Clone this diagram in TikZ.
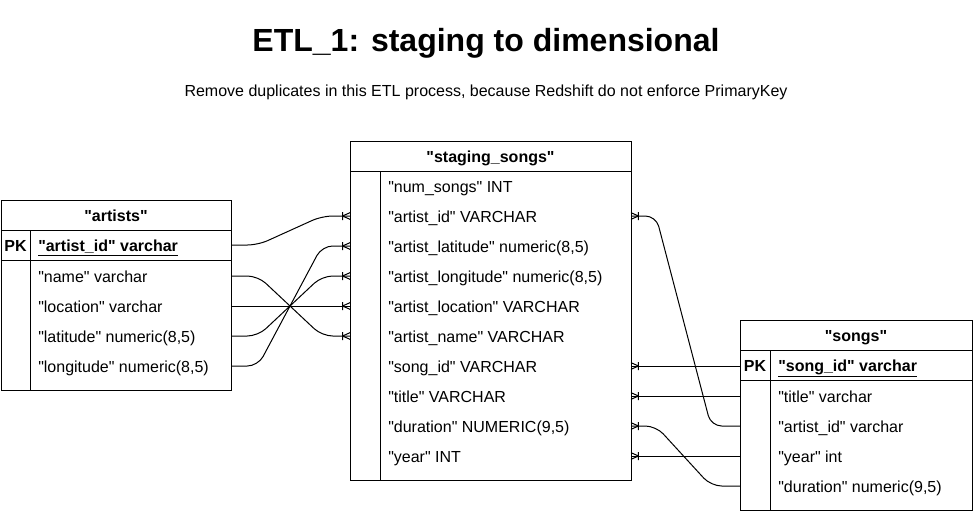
\documentclass[tikz,border=0pt]{standalone}
\usepackage{fontspec}
\newfontfamily\arial{Liberation Sans}
\usetikzlibrary{calc}
\pgfdeclarearrow{
  name = CrowOne,
  setup code = {
    \pgfarrowssettipend{0pt}
    \pgfarrowssetlineend{0pt}
    \pgfarrowssetbackend{-6pt}
    \pgfarrowshullpoint{0pt}{3pt}
    \pgfarrowshullpoint{0pt}{-3pt}
    \pgfarrowshullpoint{-6pt}{3pt}
    \pgfarrowshullpoint{-6pt}{-3pt}
  },
  drawing code = {
    \pgfsetdash{}{0pt}
    \pgfpathmoveto{\pgfqpoint{-5.6pt}{0pt}}
    \pgfpathlineto{\pgfqpoint{0pt}{2.5pt}}
    \pgfpathmoveto{\pgfqpoint{-5.6pt}{0pt}}
    \pgfpathlineto{\pgfqpoint{0pt}{-2.5pt}}
    \pgfpathmoveto{\pgfqpoint{-5.6pt}{3pt}}
    \pgfpathlineto{\pgfqpoint{-5.6pt}{-3pt}}
    \pgfusepathqstroke
  }
}
\begin{document}
\begin{tikzpicture}[x=0.75pt,y=-0.75pt,
  tbox/.style={draw, line width=0.75pt, anchor=north west, inner sep=0pt, outer sep=0pt},
  sep/.style={line width=0.75pt},
  txt/.style={anchor=west, inner sep=0pt, font=\arial\fontsize{12}{14}\selectfont, text height=11pt, text depth=2pt},
  btxt/.style={txt, font=\arial\bfseries\fontsize{12}{14}\selectfont},
  hdr/.style={inner sep=0pt, font=\arial\bfseries\fontsize{12}{14}\selectfont, text height=11pt, text depth=2pt},
  conn/.style={draw, line width=0.75pt, rounded corners=8pt},
]
\useasboundingbox (0,0) rectangle (973,511);

% title
\node[font=\arial\bfseries\fontsize{24}{28}\selectfont, inner sep=0pt] (title) at (486,43) {ETL\_1: staging to dimensional};
\node[font=\arial\fontsize{12}{14}\selectfont, inner sep=0pt] (sub) at (486,92) {Remove duplicates in this ETL process, because Redshift do not enforce PrimaryKey};

% artists table
\node[tbox, minimum width=172.5pt, minimum height=142.5pt] (A) at (1,200) {};
\draw[sep] ($(A.north west)+(0,30)$) -- ($(A.north east)+(0,30)$);
\draw[sep] ($(A.north west)+(0,60)$) -- ($(A.north east)+(0,60)$);
\draw[sep] ($(A.north west)+(29,30)$) -- ($(A.south west)+(29,0)$);
\node[hdr] (Ah) at ($(A.north)+(0,15)$) {"artists"};
\node[hdr] (Apk) at ($(A.north west)+(14.5,45)$) {PK};
\node[btxt] (Aid) at ($(A.north west)+(37,45)$) {\underline{"artist\_id" varchar}};
\node[txt] (Aname) at ($(A.north west)+(37,76)$) {"name" varchar};
\node[txt] (Aloc) at ($(A.north west)+(37,106)$) {"location" varchar};
\node[txt] (Alat) at ($(A.north west)+(37,136)$) {"latitude" numeric(8,5)};
\node[txt] (Alon) at ($(A.north west)+(37,166)$) {"longitude" numeric(8,5)};

% staging_songs table
\node[tbox, minimum width=210.75pt, minimum height=254.25pt] (S) at (350,141) {};
\draw[sep] ($(S.north west)+(0,30)$) -- ($(S.north east)+(0,30)$);
\draw[sep] ($(S.north west)+(30,30)$) -- ($(S.south west)+(30,0)$);
\node[hdr] (Sh) at ($(S.north)+(0,15)$) {"staging\_songs"};
\node[txt] (S1) at ($(S.north west)+(38,45)$) {"num\_songs" INT};
\node[txt] (S2) at ($(S.north west)+(38,75)$) {"artist\_id" VARCHAR};
\node[txt] (S3) at ($(S.north west)+(38,105)$) {"artist\_latitude" numeric(8,5)};
\node[txt] (S4) at ($(S.north west)+(38,135)$) {"artist\_longitude" numeric(8,5)};
\node[txt] (S5) at ($(S.north west)+(38,165)$) {"artist\_location" VARCHAR};
\node[txt] (S6) at ($(S.north west)+(38,195)$) {"artist\_name" VARCHAR};
\node[txt] (S7) at ($(S.north west)+(38,225)$) {"song\_id" VARCHAR};
\node[txt] (S8) at ($(S.north west)+(38,255)$) {"title" VARCHAR};
\node[txt] (S9) at ($(S.north west)+(38,285)$) {"duration" NUMERIC(9,5)};
\node[txt] (S10) at ($(S.north west)+(38,315)$) {"year" INT};

% songs table
\node[tbox, minimum width=174pt, minimum height=142.5pt] (G) at (740,320) {};
\draw[sep] ($(G.north west)+(0,30)$) -- ($(G.north east)+(0,30)$);
\draw[sep] ($(G.north west)+(0,60)$) -- ($(G.north east)+(0,60)$);
\draw[sep] ($(G.north west)+(30,30)$) -- ($(G.south west)+(30,0)$);
\node[hdr] (Gh) at ($(G.north)+(0,15)$) {"songs"};
\node[hdr] (Gpk) at ($(G.north west)+(15,45)$) {PK};
\node[btxt] (Gid) at ($(G.north west)+(38,45)$) {\underline{"song\_id" varchar}};
\node[txt] (Gtitle) at ($(G.north west)+(38,76)$) {"title" varchar};
\node[txt] (Gaid) at ($(G.north west)+(38,106)$) {"artist\_id" varchar};
\node[txt] (Gyear) at ($(G.north west)+(38,136)$) {"year" int};
\node[txt] (Gdur) at ($(G.north west)+(38,166)$) {"duration" numeric(9,5)};

% connectors artists -> staging
\draw[conn, -CrowOne] (Aid -| A.east) -- ++(27,0) -- ($(S2 -| S.west)+(-28,0)$) -- (S2 -| S.west);
\draw[conn, -CrowOne] (Aname -| A.east) -- ++(27,0) -- ($(S6 -| S.west)+(-28,0)$) -- (S6 -| S.west);
\draw[conn, -CrowOne] (Aloc -| A.east) -- (S5 -| S.west);
\draw[conn, -CrowOne] (Alat -| A.east) -- ++(27,0) -- ($(S4 -| S.west)+(-28,0)$) -- (S4 -| S.west);
\draw[conn, -CrowOne] (Alon -| A.east) -- ++(27,0) -- ($(S3 -| S.west)+(-28,0)$) -- (S3 -| S.west);

% connectors staging -> songs
\draw[conn, CrowOne-] (S2 -| S.east) -- ++(25,0) -- ($(Gaid -| G.west)+(-29,0)$) -- (Gaid -| G.west);
\draw[conn, CrowOne-] (S7 -| S.east) -- (S7 -| G.west);
\draw[conn, CrowOne-] (S8 -| S.east) -- (Gtitle -| G.west);
\draw[conn, CrowOne-] (S9 -| S.east) -- ++(25,0) -- ($(Gdur -| G.west)+(-29,0)$) -- (Gdur -| G.west);
\draw[conn, CrowOne-] (S10 -| S.east) -- (Gyear -| G.west);
\end{tikzpicture}
\end{document}
